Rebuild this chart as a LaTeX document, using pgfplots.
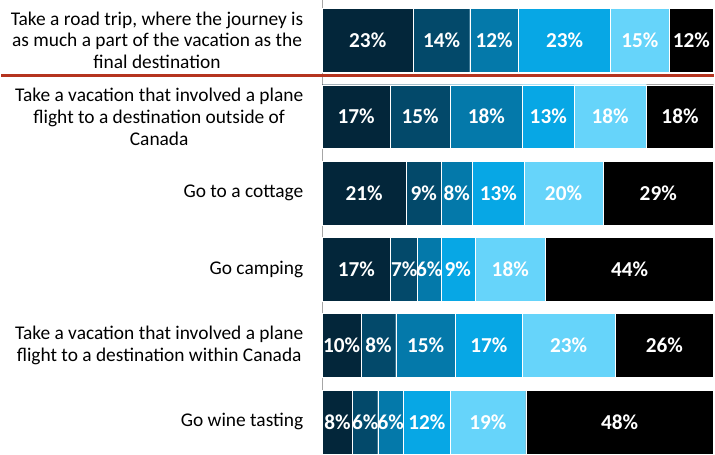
\documentclass[border=0pt]{standalone}
\usepackage{fontspec}
\setmainfont{Carlito}
\usepackage{pgfplots}
\usepackage{pgfplotstable}
\pgfplotsset{compat=1.18}

\definecolor{c1}{HTML}{03263A}
\definecolor{c2}{HTML}{03496A}
\definecolor{c3}{HTML}{0479AA}
\definecolor{c4}{HTML}{07A7E5}
\definecolor{c5}{HTML}{66D4FA}
\definecolor{c6}{HTML}{000000}
\definecolor{redline}{HTML}{B5341F}

% widths as measured, labels as printed
\pgfplotstableread{
y a    b    c    d    e    f    la lb lc ld le lf
6 23.3 14.4 12.5 23.5 14.9 11.4 23 14 12 23 15 12
5 17.4 15.3 18.5 13.1 18.5 17.2 17 15 18 13 18 18
4 21.5 8.9  8.0  13.2 20.1 28.3 21 9  8  13 20 29
3 17.5 6.9  5.9  8.7  18.1 42.9 17 7  6  9  18 44
2 10.0 8.8  15.3 17.0 23.7 25.2 10 8  15 17 23 26
1 7.8  6.4  6.6  11.9 19.3 48.0 8  6  6  12 19 48
}\data

\pgfplotsset{
  seg/.style={fill=#1, draw=white, line width=0.3pt},
}

\begin{document}
\begin{tikzpicture}
\begin{axis}[
  scale only axis,
  width=294.75pt, height=340.5pt,
  xbar stacked, bar width=0.836,
  xmin=0, xmax=100, ymin=0.595, ymax=6.522,
  enlargelimits=false,
  clip=false,
  axis x line=none, axis y line=left,
  y axis line style={-, draw=gray!70, line width=0.75pt},
  ytick={1,...,6},
  yticklabels={
    {Go wine tasting},
    {Take a vacation that involved a plane\\flight to a destination within Canada},
    {Go camping},
    {Go to a cottage},
    {Take a vacation that involved a plane\\flight to a destination outside of\\Canada},
    {Take a road trip, where the journey is\\as much a part of the vacation as the\\final destination}},
  major tick length=0pt,
  ytick style={draw=none},
  yticklabel style={align=center, font=\fontsize{14.6}{16.5}\selectfont,
    inner sep=0pt, xshift=-14pt, text=black},
  point meta=explicit symbolic,
  nodes near coords={\pgfplotspointmeta\%},
  every node near coord/.append style={font=\fontsize{16}{18}\selectfont\bfseries,
    text=white, anchor=center, inner sep=0pt},
]
\addplot[seg=c1] table[x=a, y=y, meta=la] {\data};
\addplot[seg=c2] table[x=b, y=y, meta=lb] {\data};
\addplot[seg=c3] table[x=c, y=y, meta=lc] {\data};
\addplot[seg=c4] table[x=d, y=y, meta=ld] {\data};
\addplot[seg=c5] table[x=e, y=y, meta=le] {\data};
\addplot[seg=c6] table[x=f, y=y, meta=lf] {\data};

\draw[redline, line width=2pt] ([xshift=-241.5pt]axis cs:0,5.543) -- (axis cs:100,5.543);
\end{axis}
\end{tikzpicture}
\end{document}
